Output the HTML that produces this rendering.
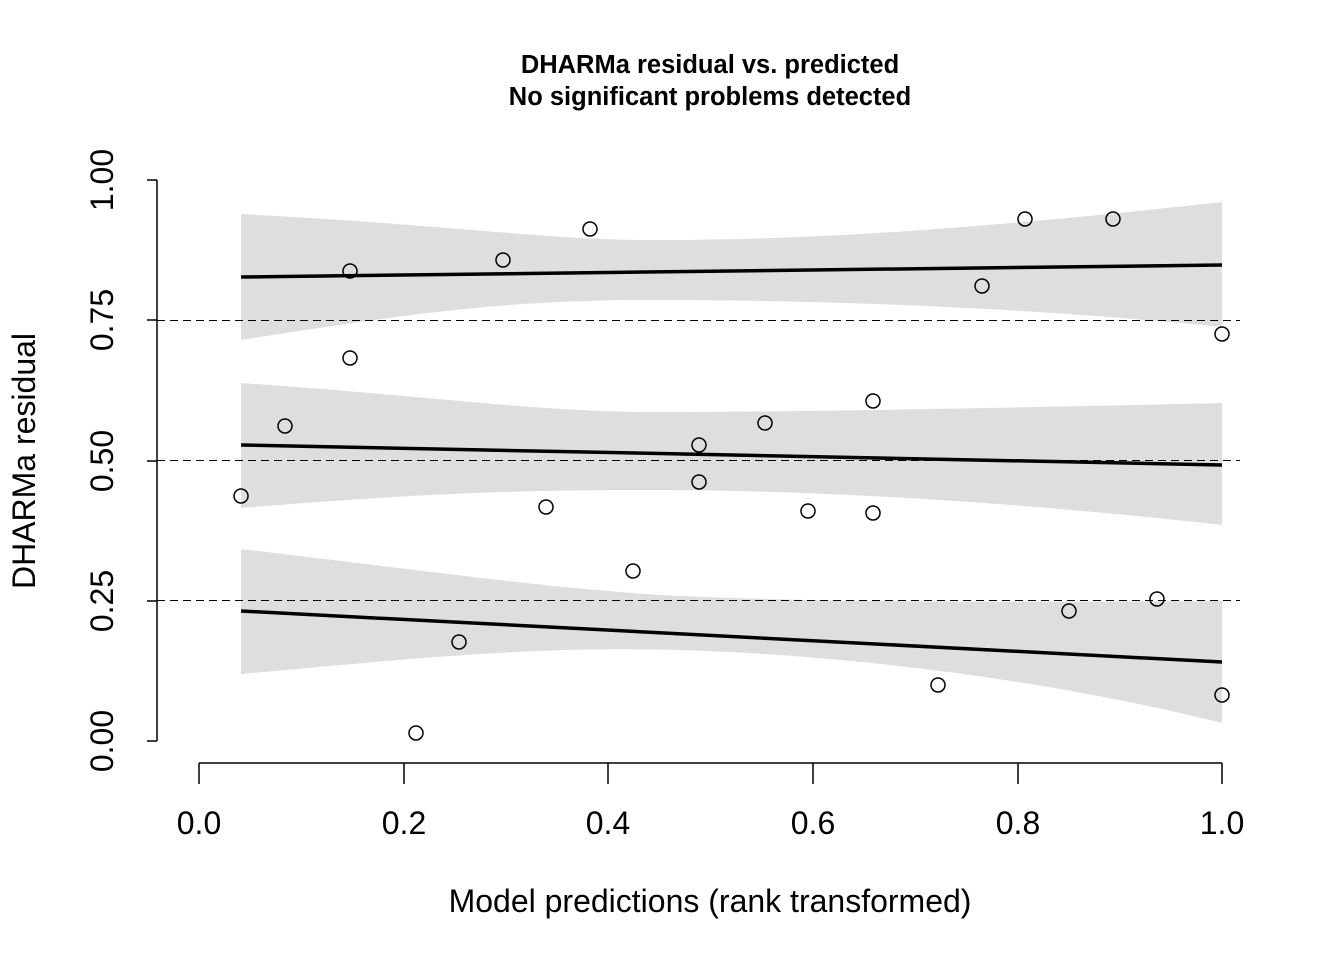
<!DOCTYPE html>
<html><head><style>body{margin:0;background:#fff}svg{display:block}text{font-family:"Liberation Sans",Arial,sans-serif}</style></head>
<body>
<svg width="1344" height="960" viewBox="0 0 1344 960" xmlns="http://www.w3.org/2000/svg">
<rect width="1344" height="960" fill="#fff"/>
<path d="M241,214 C450,225 550,240 650,240 C800,240 950,232 1222,202 L1222,327 C1000,305 800,300 650,300 C500,300 400,315 241,340 Z" fill="#dedede"/>
<path d="M241,383 C420,395 540,412 650,412 C800,412 1000,408 1222,403 L1222,525 C1000,500 800,490 650,490 C500,490 400,495 241,508 Z" fill="#dedede"/>
<path d="M241,549 C420,570 560,590 680,596 C850,603 1000,602 1222,601 L1222,723 C1050,680 850,655 680,650 C520,646 400,660 241,674 Z" fill="#dedede"/>
<g stroke="#000" stroke-width="1" stroke-dasharray="8,5">
<line x1="157" y1="320.5" x2="1240" y2="320.5"/><line x1="157" y1="460.5" x2="1240" y2="460.5"/><line x1="157" y1="600.5" x2="1240" y2="600.5"/>
</g>
<g stroke="#000" stroke-width="3.5">
<line x1="241" y1="277" x2="1222" y2="265"/><line x1="241" y1="445" x2="1222" y2="465"/><line x1="241" y1="611" x2="1222" y2="662"/>
</g>
<g fill="none" stroke="#000" stroke-width="1.5">
<circle cx="241" cy="496" r="7"/><circle cx="285" cy="426" r="7"/><circle cx="350" cy="271" r="7"/><circle cx="350" cy="358" r="7"/><circle cx="416" cy="733" r="7"/><circle cx="459" cy="642" r="7"/><circle cx="503" cy="260" r="7"/><circle cx="546" cy="507" r="7"/><circle cx="590" cy="229" r="7"/><circle cx="633" cy="571" r="7"/><circle cx="699" cy="445" r="7"/><circle cx="699" cy="482" r="7"/><circle cx="765" cy="423" r="7"/><circle cx="808" cy="511" r="7"/><circle cx="873" cy="401" r="7"/><circle cx="873" cy="513" r="7"/><circle cx="938" cy="685" r="7"/><circle cx="982" cy="286" r="7"/><circle cx="1025" cy="219" r="7"/><circle cx="1069" cy="611" r="7"/><circle cx="1113" cy="219" r="7"/><circle cx="1157" cy="599" r="7"/><circle cx="1222" cy="334" r="7"/><circle cx="1222" cy="695" r="7"/>
</g>
<g stroke="#000" stroke-width="1.5">
<line x1="157" y1="180" x2="157" y2="741"/>
<line x1="147" y1="180" x2="157" y2="180"/><line x1="147" y1="320" x2="157" y2="320"/><line x1="147" y1="461" x2="157" y2="461"/><line x1="147" y1="601" x2="157" y2="601"/><line x1="147" y1="741" x2="157" y2="741"/>
<line x1="199" y1="763" x2="1222" y2="763"/>
<line x1="199" y1="763" x2="199" y2="784"/><line x1="404" y1="763" x2="404" y2="784"/><line x1="608" y1="763" x2="608" y2="784"/><line x1="813" y1="763" x2="813" y2="784"/><line x1="1018" y1="763" x2="1018" y2="784"/><line x1="1222" y1="763" x2="1222" y2="784"/>
</g>
<g font-size="32" text-anchor="middle">
<text x="199" y="834">0.0</text><text x="404" y="834">0.2</text><text x="608" y="834">0.4</text><text x="813" y="834">0.6</text><text x="1018" y="834">0.8</text><text x="1222" y="834">1.0</text>
<text transform="translate(113,180) rotate(-90)">1.00</text>
<text transform="translate(113,320) rotate(-90)">0.75</text>
<text transform="translate(113,461) rotate(-90)">0.50</text>
<text transform="translate(113,601) rotate(-90)">0.25</text>
<text transform="translate(113,741) rotate(-90)">0.00</text>
<text x="710" y="912">Model predictions (rank transformed)</text>
<text transform="translate(35,461) rotate(-90)">DHARMa residual</text>
</g>
<g font-size="25.5" font-weight="bold" text-anchor="middle">
<text x="710" y="73">DHARMa residual vs. predicted</text>
<text x="710" y="105">No significant problems detected</text>
</g>
</svg>
</body></html>
